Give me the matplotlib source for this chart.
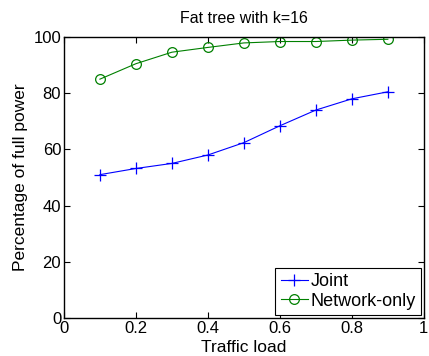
import numpy as np
import matplotlib
matplotlib.use("Agg")
import matplotlib.pyplot as plt

plt.rcParams['font.family'] = ['Liberation Sans', 'DejaVu Sans']

carga = [0.1, 0.2, 0.3, 0.4, 0.5, 0.6, 0.7, 0.8, 0.9]
joint = [51.0, 53.2, 55.0, 58.0, 62.4, 68.4, 74.0, 78.0, 80.5]
network_only = [85.0, 90.5, 94.6, 96.3, 97.9, 98.4, 98.4, 98.9, 99.2]

fig = plt.figure(figsize=(4.29, 3.56), dpi=100)
ax = fig.add_axes([0.149, 0.107, 0.839, 0.789])

ax.plot(carga, joint, color='blue', marker='+', markersize=8, linewidth=0.8,
        markeredgewidth=0.9, label='Joint')
ax.plot(carga, network_only, color='#008000', marker='o', markersize=7,
        markerfacecolor='none', linewidth=0.8, markeredgewidth=0.9,
        label='Network-only')

ax.set_xlim(0, 1)
ax.set_ylim(0, 100)
ax.set_xticks([0, 0.2, 0.4, 0.6, 0.8, 1])
ax.set_xticklabels(['0', '0.2', '0.4', '0.6', '0.8', '1'])
ax.set_yticks([0, 20, 40, 60, 80, 100])
ax.tick_params(direction='in', top=True, right=True, labelsize=12, length=4,
               width=0.8, pad=2)
for s in ax.spines.values():
    s.set_linewidth(1.0)

ax.set_xlabel("Traffic load", fontsize=12.5, labelpad=3)
ax.set_ylabel("Percentage of full power", fontsize=12.5, labelpad=4)
ax.set_title("Fat tree with k=16", fontsize=11.5, pad=10)

leg = ax.legend(loc='lower right', fontsize=13, fancybox=False, framealpha=1,
                borderpad=0.3, labelspacing=0.15, handlelength=1.5,
                handletextpad=0.15, borderaxespad=0.15)
leg.get_frame().set_edgecolor('black')
leg.get_frame().set_linewidth(0.8)

plt.savefig("out.png", dpi=100)
